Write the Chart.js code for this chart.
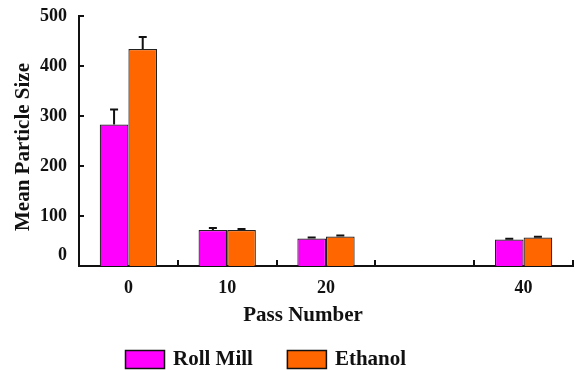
<!DOCTYPE html>
<html>
<head>
<meta charset="utf-8">
<script src="https://cdn.jsdelivr.net/npm/chart.js@4/dist/chart.umd.min.js"></script>
<style>
  html, body { margin: 0; padding: 0; background: #fff; }
  #wrap { width: 575px; height: 370px; }
</style>
</head>
<body>
<div id="wrap"><canvas id="c" width="575" height="370"></canvas></div>
<script>
// Pass numbers on the x axis (30 passes was not measured, its slot stays empty)
const passNumbers = ['0', '10', '20', '', '40'];
// Mean particle size per pass number
const rollMill = [283, 72, 55, null, 53];
const ethanol = [434, 72, 59, null, 57];
// Upper error bar lengths
const rollMillErr = [30, 4, 2, 0, 1.5];
const ethanolErr = [24, 2, 2, 0, 1.5];
const yTicks = [0, 100, 200, 300, 400, 500];

const FONT = '"Liberation Serif", "Times New Roman", serif';

// Upper-half error bars on each bar
const errorBars = {
  id: 'errorBars',
  afterDatasetsDraw(chart) {
    const ctx = chart.ctx;
    const y = chart.scales.y;
    const errs = [rollMillErr, ethanolErr];
    ctx.save();
    ctx.strokeStyle = '#111';
    ctx.lineWidth = 2;
    chart.data.datasets.forEach((ds, di) => {
      const meta = chart.getDatasetMeta(di);
      meta.data.forEach((bar, i) => {
        const v = ds.data[i];
        const e = errs[di][i];
        if (v == null || !e) return;
        const top = y.getPixelForValue(v + e);
        ctx.beginPath();
        ctx.moveTo(bar.x, bar.y);
        ctx.lineTo(bar.x, top);
        ctx.moveTo(bar.x - 4, top);
        ctx.lineTo(bar.x + 4, top);
        ctx.stroke();
      });
    });
    ctx.restore();
  }
};

// Inward tick marks, value labels, axis titles and the legend
const decorations = {
  id: 'decorations',
  afterDraw(chart) {
    const ctx = chart.ctx;
    const area = chart.chartArea;
    const x = chart.scales.x;
    const y = chart.scales.y;
    ctx.save();
    ctx.strokeStyle = '#111';
    ctx.lineWidth = 2;
    // y ticks point into the plot
    yTicks.forEach(v => {
      const py = Math.round(y.getPixelForValue(v));
      ctx.beginPath();
      ctx.moveTo(area.left, py);
      ctx.lineTo(area.left + 5, py);
      ctx.stroke();
    });
    // x ticks sit on category boundaries and point up
    const step = (area.right - area.left) / passNumbers.length;
    for (let i = 1; i <= passNumbers.length; i++) {
      const px = Math.round(x.getPixelForValue(i - 1) + step / 2);
      ctx.beginPath();
      ctx.moveTo(px, area.bottom);
      ctx.lineTo(px, area.bottom - 6);
      ctx.stroke();
    }
    // y tick labels
    ctx.fillStyle = '#111';
    ctx.font = 'bold 18px ' + FONT;
    ctx.textAlign = 'right';
    ctx.textBaseline = 'middle';
    yTicks.forEach(v => {
      const py = y.getPixelForValue(v) - (v === 0 ? 11 : 0);
      ctx.fillText(String(v), area.left - 12, py);
    });
    // y title
    ctx.font = 'bold 21px ' + FONT;
    ctx.textAlign = 'center';
    ctx.save();
    ctx.translate(24, (area.top + area.bottom) / 2 + 6);
    ctx.rotate(-Math.PI / 2);
    ctx.fillText('Mean Particle Size', 0, 0);
    ctx.restore();
    // x title
    ctx.fillText('Pass Number', 303, 316);
    // legend
    ctx.textAlign = 'left';
    let lx = 125;
    chart.data.datasets.forEach(ds => {
      ctx.fillStyle = ds.backgroundColor;
      ctx.fillRect(lx, 350, 40, 19);
      ctx.lineWidth = 1.5;
      ctx.strokeRect(lx + 0.5, 350.5, 39, 18);
      ctx.fillStyle = '#111';
      ctx.fillText(ds.label, lx + 48, 360);
      lx += 48 + ctx.measureText(ds.label).width + 34;
    });
    ctx.restore();
  }
};

new Chart(document.getElementById('c'), {
  type: 'bar',
  data: {
    labels: passNumbers,
    datasets: [
      { label: 'Roll Mill', data: rollMill, backgroundColor: '#ff00ff', borderColor: '#222', borderWidth: 1.2 },
      { label: 'Ethanol', data: ethanol, backgroundColor: '#ff6600', borderColor: '#222', borderWidth: 1.2 }
    ]
  },
  options: {
    responsive: false,
    animation: false,
    devicePixelRatio: 1,
    layout: { padding: { left: 0, top: 16, right: 2, bottom: 0 } },
    datasets: { bar: { barPercentage: 1, categoryPercentage: 0.58 } },
    plugins: { legend: { display: false }, tooltip: { enabled: false } },
    scales: {
      x: {
        grid: { display: false },
        border: { display: true, color: '#111', width: 2 },
        ticks: { color: '#111', font: { family: FONT, size: 18, weight: 'bold' }, padding: 4, maxRotation: 0 },
        afterFit: s => { s.height = 104; }
      },
      y: {
        min: 0, max: 500,
        grid: { display: false },
        border: { display: true, color: '#111', width: 2 },
        ticks: { display: false, stepSize: 100 },
        afterFit: s => { s.width = 79; }
      }
    }
  },
  plugins: [errorBars, decorations]
});
</script>
</body>
</html>
